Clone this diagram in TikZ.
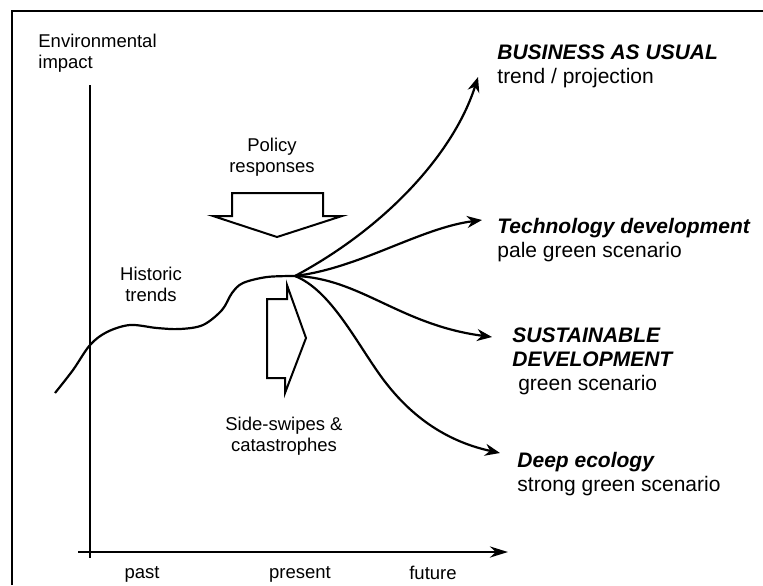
\documentclass[tikz,border=0pt]{standalone}
\usepackage{fontspec}
\setmainfont{Liberation Sans}
\usetikzlibrary{arrows.meta}
\tikzset{
    frameline/.style={line width=1.2pt, black},
    axisline/.style={line width=1.4pt, black},
    trendline/.style={line width=1.1pt, black},
    arr/.style={-{Stealth[length=7.5pt,width=6pt]}, line width=1.1pt},
    blockarrow/.style={draw=black, fill=white, line width=1pt, line join=miter},
    smalllabel/.style={font=\fontsize{9.25}{10.25}\selectfont, align=center, inner sep=0pt},
    scenario/.style={font=\fontsize{10.5}{12}\selectfont, align=left, inner sep=0pt, anchor=north west},
}

\begin{document}
\begin{tikzpicture}[x=0.5pt, y=-0.5pt]
\useasboundingbox (0,0) rectangle (763,585);

% Frame
\draw[frameline] (12,585) |- (763,11);

% Axes
\coordinate (yTop) at (90,85);
\coordinate (yFoot) at (90,558);
\coordinate (xStart) at (78,552);
\coordinate (xEnd) at (508,552);
\draw[axisline] (yTop) -- (yFoot);
\draw[axisline, -{Stealth[length=9pt,width=5.5pt]}] (xStart) -- (xEnd);

% Axis labels
\node[smalllabel, anchor=north west, align=left] (envImpact) at (38,34) {Environmental\\impact};
\node[smalllabel, anchor=base] (past) at (142,578) {past};
\node[smalllabel, anchor=base] (present) at (300,578) {present};
\node[smalllabel, anchor=base] (future) at (433,579) {future};

% Historic trend up to the present
\coordinate (fork) at (295,276);
\draw[trendline] plot[smooth, tension=0.55] coordinates {(55,393) (73,370) (90,345) (107,332) (130,325) (157,328) (180,329) (203,325) (222,310) (232,293) (243,283) (267,277) (fork)};
\node[smalllabel, anchor=north] (historic) at (151,267) {Historic\\trends};

% Policy responses
\node[smalllabel, anchor=north] (policy) at (272,138) {Policy\\responses};
\draw[blockarrow] (232,193) -- (323,193) -- (323,216) -- (342,216) -- (277,237) -- (213,216) -- (232,216) -- cycle;

% Side-swipes
\draw[blockarrow] (267,299) -- (287,299) -- (287,285) -- (306,338) -- (285,393) -- (285,378) -- (267,378) -- cycle;
\node[smalllabel, anchor=north] (sideSwipes) at (284,417) {Side-swipes \&\\catastrophes};

% Scenario branches
\coordinate (bauTip) at (478,77);
\coordinate (techTip) at (482,220);
\coordinate (sustainTip) at (492,337);
\coordinate (deepTip) at (500,453);
\draw[arr] (fork) .. controls (390,225) and (455,150) .. (bauTip);
\draw[arr] (fork) .. controls (360,268) and (420,228) .. (techTip);
\draw[arr] (fork) .. controls (360,278) and (400,325) .. (sustainTip);
\draw[arr] (fork) .. controls (330,290) and (355,340) .. (380,375)
    .. controls (405,410) and (440,440) .. (deepTip);

% Scenario labels
\node[scenario] (bau) at (497,44) {\textbf{\textit{BUSINESS AS USUAL}}\\trend / projection};
\node[scenario] (tech) at (497,218) {\textbf{\textit{Technology development}}\\pale green scenario};
\node[scenario] (sustain) at (512,327) {\textbf{\textit{SUSTAINABLE}}\\\textbf{\textit{DEVELOPMENT}}\\\hspace*{0.28em}green scenario};
\node[scenario] (deep) at (517,452) {\textbf{\textit{Deep ecology}}\\strong green scenario};

\end{tikzpicture}
\end{document}
